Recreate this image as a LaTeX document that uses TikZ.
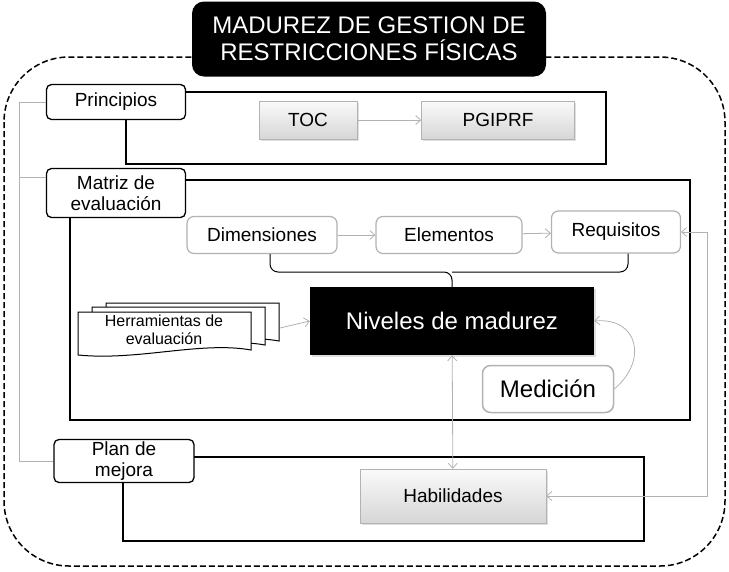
\documentclass[tikz,border=0pt]{standalone}
\usepackage{fontspec}
\setmainfont{Liberation Sans}
\usetikzlibrary{arrows.meta,shadows}

\tikzset{
  frame/.style={line width=1.6pt},
  tag/.style={draw,fill=white,rounded corners=5pt,line width=1.3pt,align=center,
    inner sep=0pt,font=\fontsize{19}{21}\selectfont},
  greybox/.style={draw=gray!60,top color=gray!4,bottom color=gray!32,inner sep=0pt,
    drop shadow={opacity=0.25,shadow xshift=1.5pt,shadow yshift=-2pt},
    font=\fontsize{19}{21}\selectfont},
  stepbox/.style={draw=gray!60,fill=white,rounded corners=7pt,line width=1.2pt,inner sep=0pt,
    font=\fontsize{19}{21}\selectfont},
  link/.style={draw=gray!60,line width=0.8pt,-{Straight Barb[length=5pt,width=9pt]}},
}

\begin{document}
\begin{tikzpicture}[x=1pt,y=-1pt]
  \useasboundingbox (0,0) rectangle (729,571);
  % outer frame
  \draw[line width=1.5pt,dash pattern=on 6pt off 3pt,rounded corners=65pt] (4,57) rectangle (725,566);
  \node[fill=black,rounded corners=12pt,minimum width=354pt,minimum height=75pt,text=white,
        align=center,font=\fontsize{24}{27}\selectfont] (title) at (369,39)
        {MADUREZ DE GESTION DE\\RESTRICCIONES FÍSICAS};

  % frames
  \draw[frame] (126,92) rectangle (606,164);
  \draw[frame] (70,180) rectangle (690,420);
  \draw[frame] (123,457) rectangle (644,541);

  % Principios
  \node[tag,minimum width=139pt,minimum height=35pt] (prin) at (116,102) {Principios};
  \node[greybox,minimum width=98pt,minimum height=38pt] (toc) at (308,120) {TOC};
  \node[greybox,minimum width=153pt,minimum height=38pt] (pgi) at (498,120) {PGIPRF};
  \draw[link] (toc) -- (pgi);

  % Matriz de evaluacion
  \node[tag,minimum width=139pt,minimum height=49pt] (matr) at (116,193) {Matriz de\\evaluación};
  \node[stepbox,minimum width=150pt,minimum height=37pt] (dim) at (262,235) {Dimensiones};
  \node[stepbox,minimum width=146pt,minimum height=37pt] (ele) at (449,235) {Elementos};
  \node[stepbox,minimum width=129pt,minimum height=42pt] (req) at (616,232) {Requisitos};
  \draw[link] (dim) -- (ele);
  \draw[link] (ele) -- (req);

  \node[fill=black,text=white,inner sep=0pt,minimum width=284pt,minimum height=68pt,
        drop shadow={opacity=0.25,shadow xshift=1.5pt,shadow yshift=-2pt},
        font=\fontsize{24}{26}\selectfont] (niv) at (452,321) {Niveles de madurez};
  \draw[line width=1pt,rounded corners=8pt] ([xshift=8pt]dim.south) |- (niv.north |- 0,272) -- (niv.north);
  \draw[line width=1pt,rounded corners=8pt] ([xshift=12pt]req.south) |- (niv.north |- 0,272);

  \node[stepbox,rounded corners=8pt,line width=1.5pt,minimum width=131pt,minimum height=47pt,
        font=\fontsize{24}{26}\selectfont] (med) at (548,389) {Medición};
  \draw[link] (med.east) to[out=40,in=5,looseness=1.6] (niv.east);

  % Herramientas de evaluacion
  \foreach \dx/\dy in {106/303,92/307,78/312}
    \draw[fill=white,line width=1pt] (\dx,\dy) -- ++(173,0) -- ++(0,38)
      .. controls ++(-50,-9) and ++(60,6) .. ++(-173,5) -- cycle;
  \node[align=center,font=\fontsize{16}{18}\selectfont] (her) at (164,330) {Herramientas de\\evaluación};
  \coordinate (herb) at (280,328);
  \draw[link] (herb) -- (niv.west);

  % Plan de mejora
  \node[tag,minimum width=140pt,minimum height=43pt] (plan) at (124,461) {Plan de\\mejora};
  \node[greybox,minimum width=186pt,minimum height=54pt] (hab) at (453,496) {Habilidades};
  \draw[link,{Straight Barb[length=5pt,width=9pt]}-{Straight Barb[length=5pt,width=9pt]}] (niv) -- (hab);
  \draw[link,{Straight Barb[length=5pt,width=9pt]}-{Straight Barb[length=5pt,width=9pt]}] (hab.east) -- ++(161,0) |- (req.east);

  % left connector
  \draw[draw=gray!60,line width=0.8pt] (prin.west) -- ++(-26,0) |- (plan.west);
  \draw[draw=gray!60,line width=0.8pt] ([yshift=16pt]matr.west) -- ++(-26,0);
\end{tikzpicture}
\end{document}
